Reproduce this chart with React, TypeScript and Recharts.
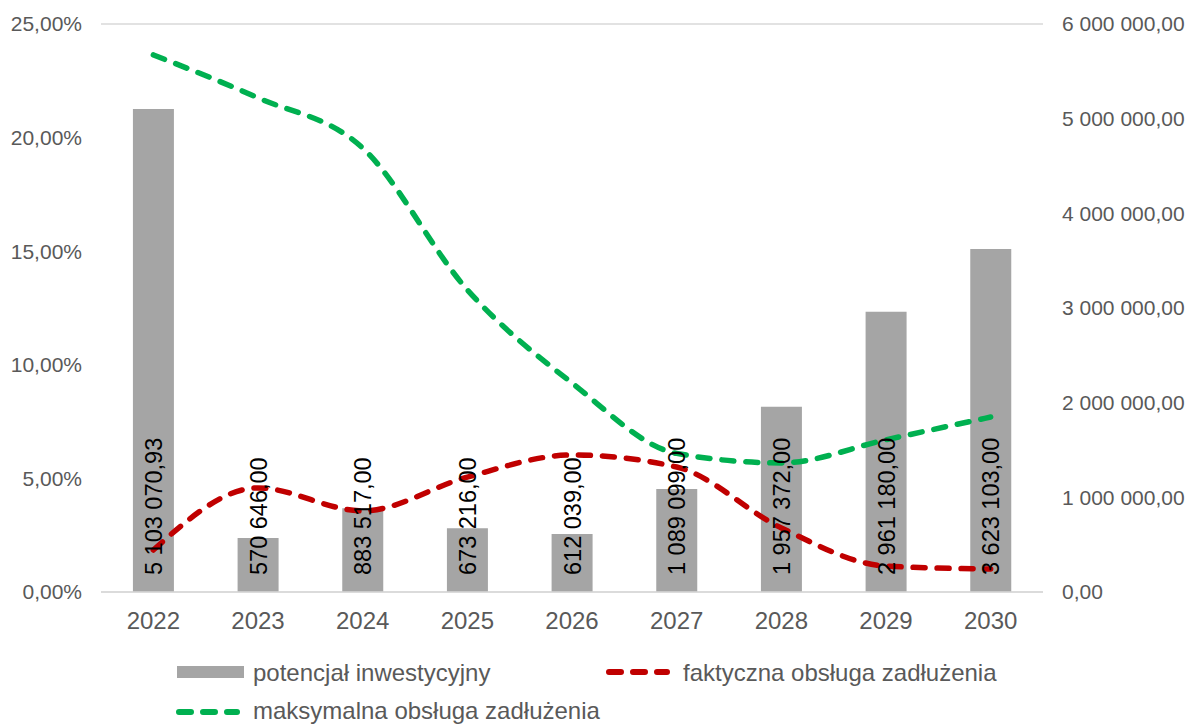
import React from "react";
import {
  ComposedChart,
  Bar,
  Line,
  XAxis,
  YAxis,
  CartesianGrid,
  LabelList,
} from "recharts";

const years = ["2022", "2023", "2024", "2025", "2026", "2027", "2028", "2029", "2030"];
const potencjal = [5103070.93, 570646.0, 883517.0, 673216.0, 612039.0, 1089099.0, 1957372.0, 2961180.0, 3623103.0];
const potencjalLabels = [
  "5 103 070,93",
  "570 646,00",
  "883 517,00",
  "673 216,00",
  "612 039,00",
  "1 089 099,00",
  "1 957 372,00",
  "2 961 180,00",
  "3 623 103,00",
];
const faktyczna = [0.0185, 0.0458, 0.0357, 0.0506, 0.0603, 0.055, 0.0282, 0.0114, 0.0101];
const maksymalna = [0.2364, 0.2175, 0.1954, 0.133, 0.092, 0.061, 0.0568, 0.067, 0.077];
const leftTicks = [0, 0.05, 0.1, 0.15, 0.2, 0.25];
const rightTicks = [0, 1000000, 2000000, 3000000, 4000000, 5000000, 6000000];

const data = years.map((y, i) => ({
  year: y,
  potencjal: potencjal[i],
  label: potencjalLabels[i],
  faktyczna: faktyczna[i],
  maksymalna: maksymalna[i],
}));

const fmtPct = (v: number) => (v * 100).toFixed(2).replace(".", ",") + "%";
const fmtNum = (v: number) => {
  const [int, dec] = v.toFixed(2).split(".");
  return int.replace(/\B(?=(\d{3})+(?!\d))/g, " ") + "," + dec;
};

const FONT = "'Liberation Sans', Arial, sans-serif";
const GRAY = "#595959";

const BarLabel = (props: any) => {
  const { x, y, width, height, value } = props;
  const cx = x + width / 2;
  const y0 = y + height - 17;
  return (
    <text
      transform={`translate(${cx},${y0}) rotate(-90)`}
      x={0}
      y={0}
      dy="0.36em"
      textAnchor="start"
      fontSize={23.5}
      fontFamily={FONT}
      fill="#000"
    >
      {value}
    </text>
  );
};

export default function App() {
  return (
    <div style={{ position: "absolute", left: 0, top: 0, width: 1188, height: 725, background: "#fff", fontFamily: FONT }}>
      <ComposedChart
        width={1188}
        height={725}
        data={data}
        margin={{ top: 24, right: 0, left: 0, bottom: 93 }}
        barCategoryGap="30.5%"
      >
        <CartesianGrid vertical={false} stroke="#D9D9D9" strokeWidth={1.5} />
        <XAxis
          dataKey="year"
          axisLine={{ stroke: "#D9D9D9", strokeWidth: 1.5 }}
          tickLine={false}
          tickSize={0}
          tickMargin={20}
          height={40}
          tick={{ fontSize: 24, fill: GRAY, fontFamily: FONT }}
        />
        <YAxis
          yAxisId="left"
          orientation="left"
          width={101}
          domain={[0, 0.25]}
          ticks={leftTicks}
          tickFormatter={fmtPct}
          axisLine={false}
          tickLine={false}
          tickSize={0}
          tickMargin={19}
          tick={{ fontSize: 21, fill: GRAY, fontFamily: FONT }}
        />
        <YAxis
          yAxisId="right"
          orientation="right"
          width={145}
          domain={[0, 6000000]}
          ticks={rightTicks}
          tickFormatter={fmtNum}
          axisLine={false}
          tickLine={false}
          tickSize={0}
          tickMargin={19}
          tick={{ fontSize: 21, fill: GRAY, fontFamily: FONT, textAnchor: "start" }}
        />
        <Bar yAxisId="right" dataKey="potencjal" fill="#A5A5A5" isAnimationActive={false}>
          <LabelList dataKey="label" content={BarLabel} />
        </Bar>
        <Line
          yAxisId="left"
          type="monotone"
          dataKey="faktyczna"
          stroke="#C00000"
          strokeWidth={5.5}
          strokeDasharray="12 12"
          strokeLinecap="round"
          dot={false}
          activeDot={false}
          isAnimationActive={false}
        />
        <Line
          yAxisId="left"
          type="monotone"
          dataKey="maksymalna"
          stroke="#00B050"
          strokeWidth={5.5}
          strokeDasharray="12 12"
          strokeLinecap="round"
          dot={false}
          activeDot={false}
          isAnimationActive={false}
        />
      </ComposedChart>
      <div style={{ position: "absolute", left: 0, top: 0, width: 1188, height: 725, pointerEvents: "none" }}>
        <svg width={1188} height={725} style={{ position: "absolute", left: 0, top: 0 }}>
          <rect x={177} y={666} width={67} height={12} fill="#A5A5A5" />
          <text x={253} y={672} dy="0.36em" fontSize={24} fill={GRAY} fontFamily={FONT}>
            potencjał inwestycyjny
          </text>
          <line x1={609} y1={672} x2={667} y2={672} stroke="#C00000" strokeWidth={6} strokeDasharray="12 12" strokeLinecap="round" />
          <text x={683} y={672} dy="0.36em" fontSize={24} fill={GRAY} fontFamily={FONT}>
            faktyczna obsługa zadłużenia
          </text>
          <line x1={179} y1={712} x2={237} y2={712} stroke="#00B050" strokeWidth={6} strokeDasharray="12 12" strokeLinecap="round" />
          <text x={253} y={710} dy="0.36em" fontSize={24} fill={GRAY} fontFamily={FONT}>
            maksymalna obsługa zadłużenia
          </text>
        </svg>
      </div>
    </div>
  );
}
